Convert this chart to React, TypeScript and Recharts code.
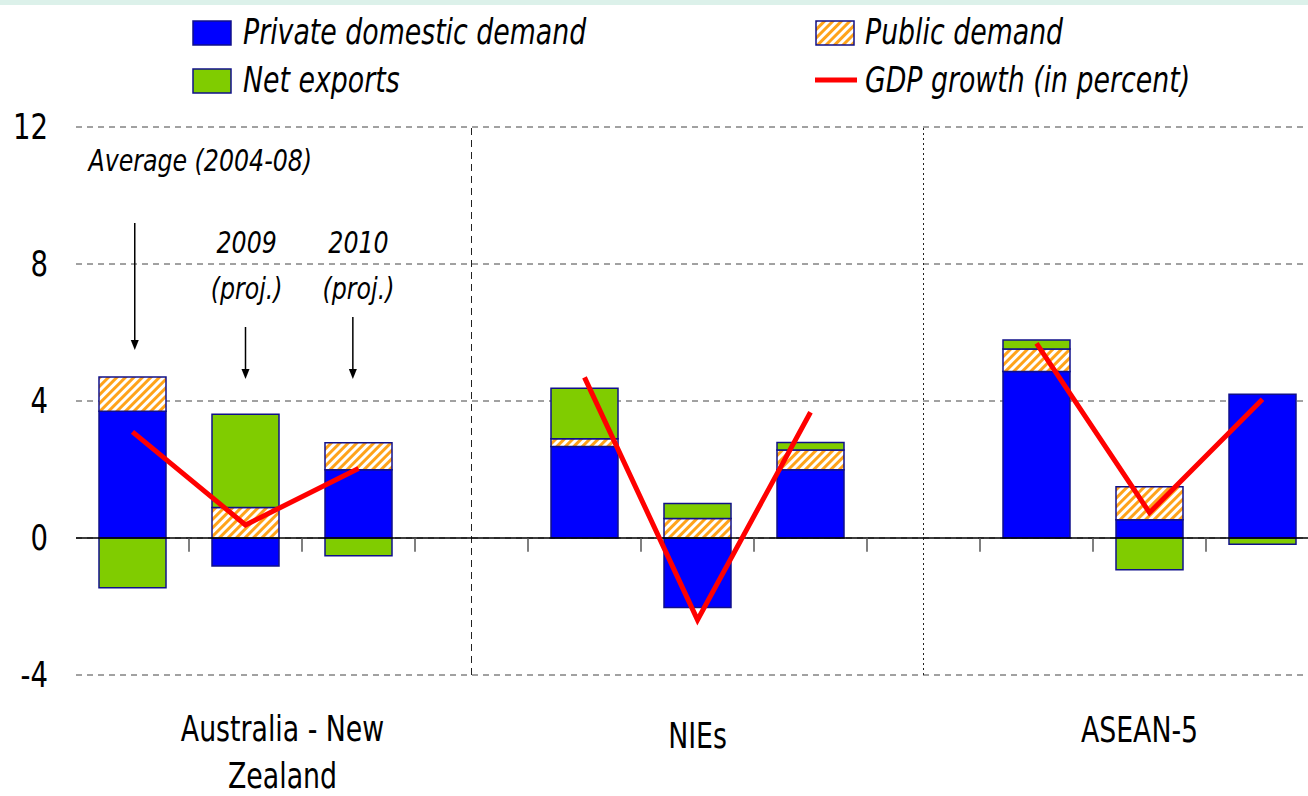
import {
  ComposedChart,
  Bar,
  Line,
  XAxis,
  YAxis,
  CartesianGrid,
  ReferenceLine,
  ReferenceDot,
  Legend,
} from "recharts";

const FONT = "'Liberation Sans Narrow', 'DejaVu Sans Condensed', 'Arial Narrow', sans-serif";
const SQUEEZE = 0.85;

// 11 slots: three bars per group and an empty slot between groups
const slots = [0.5, 1.5, 2.5, 3.5, 4.5, 5.5, 6.5, 7.5, 8.5, 9.5, 10.5];
const privateDemand = [3.7, -0.82, 1.99, null, 2.67, -2.03, 1.99, null, 4.86, 0.53, 4.2];
const publicDemand = [1.0, 0.89, 0.79, null, 0.23, 0.57, 0.58, null, 0.66, 0.97, 0];
const netExports = [-1.45, 2.72, -0.52, null, 1.47, 0.44, 0.22, null, 0.26, -0.93, -0.18];
const gdpGrowth = [3.1, 0.38, 2.03, null, 4.69, -2.39, 3.67, null, 5.68, 0.74, 4.05];

const groupCenters = [1.5, 5.5, 9.5];
const groupLabels = [["Australia - New", "Zealand"], ["NIEs"], ["ASEAN-5"]];
const dividers = [3.5, 7.5];
const slotEdges = [1, 2, 3, 4, 5, 6, 7, 8, 9, 10];
const yTicks = [-4, 0, 4, 8, 12];

// period annotations over the first group
const notes = [
  { x: 0.11, y: 11.04, text: "Average (2004-08)", anchor: "start" },
  { x: 1.51, y: 8.64, text: "2009", anchor: "middle" },
  { x: 1.51, y: 7.3, text: "(proj.)", anchor: "middle" },
  { x: 2.5, y: 8.64, text: "2010", anchor: "middle" },
  { x: 2.5, y: 7.3, text: "(proj.)", anchor: "middle" },
];
const arrows = [
  { x: 0.52, from: 9.2, to: 5.49 },
  { x: 1.5, from: 6.16, to: 4.64 },
  { x: 2.45, from: 6.45, to: 4.64 },
];

const data = slots.map((pos, i) => ({
  pos,
  priv: privateDemand[i],
  pub: publicDemand[i],
  net: netExports[i],
  gdp: gdpGrowth[i],
}));

const BLUE = "#0000ff";
const GREEN = "#80cc00";
const EDGE = "#10108a";

// narrow text: the reference uses a condensed face, so squeeze horizontally
const NarrowText = ({ x, y, anchor = "middle", size, italic, children }: any) => (
  <text
    transform={`translate(${x},${y}) scale(${SQUEEZE},1)`}
    textAnchor={anchor}
    dominantBaseline="central"
    fontFamily={FONT}
    fontStyle={italic ? "italic" : "normal"}
    fontSize={size}
    fill="#000"
  >
    {children}
  </text>
);

const GroupTick = (props: any) => {
  const { x, y, payload } = props;
  const idx = groupCenters.indexOf(payload.value);
  if (idx < 0) return null;
  const dx = [37, 0, -10][idx];
  const top = [46, 53, 47][idx];
  return (
    <g>
      {groupLabels[idx].map((line, j) => (
        <NarrowText key={j} x={x + dx} y={y + top + j * 47} size={35}>
          {line}
        </NarrowText>
      ))}
    </g>
  );
};

const ValueTick = (props: any) => {
  const { x, y, payload } = props;
  return (
    <NarrowText x={x} y={y} anchor="end" size={36}>
      {payload.value}
    </NarrowText>
  );
};

const Arrow = (p: any) => {
  const { x1, y1, x2, y2 } = p;
  const top = Math.min(y1, y2);
  const bot = Math.max(y1, y2);
  return (
    <g>
      <line x1={x1} y1={top} x2={x2} y2={bot - 8} stroke="#000" strokeWidth={1.5} />
      <polygon points={`${x2 - 4},${bot - 10} ${x2 + 4},${bot - 10} ${x2},${bot}`} fill="#000" />
    </g>
  );
};

const HatchSwatch = ({ id }: { id: string }) => (
  <svg width={40} height={26}>
    <defs>
      <pattern id={id} width="6" height="6" patternUnits="userSpaceOnUse" patternTransform="rotate(45)">
        <rect width="6" height="6" fill="#fff" />
        <rect width="3" height="6" fill="#ffa31a" />
      </pattern>
    </defs>
    <rect x={1} y={1} width={38} height={24} fill={`url(#${id})`} stroke={EDGE} strokeWidth={1.5} />
  </svg>
);

const renderLegend = () => {
  const text = {
    position: "absolute" as const,
    fontSize: 35,
    lineHeight: "35px",
    whiteSpace: "nowrap" as const,
    transform: `scaleX(${SQUEEZE})`,
    transformOrigin: "left center",
  };
  return (
    <div style={{ position: "relative", width: 1308, height: 110, fontFamily: FONT, fontStyle: "italic" }}>
      <svg width={40} height={26} style={{ position: "absolute", left: 192, top: 20 }}>
        <rect x={1} y={1} width={38} height={24} fill={BLUE} stroke={EDGE} strokeWidth={1.5} />
      </svg>
      <div style={{ ...text, left: 243, top: 15 }}>Private domestic demand</div>
      <svg width={40} height={26} style={{ position: "absolute", left: 192, top: 68 }}>
        <rect x={1} y={1} width={38} height={24} fill={GREEN} stroke={EDGE} strokeWidth={1.5} />
      </svg>
      <div style={{ ...text, left: 243, top: 63 }}>Net exports</div>
      <div style={{ position: "absolute", left: 815, top: 20 }}>
        <HatchSwatch id="hatchLegend" />
      </div>
      <div style={{ ...text, left: 865, top: 15 }}>Public demand</div>
      <svg width={44} height={10} style={{ position: "absolute", left: 814, top: 75 }}>
        <line x1={1} y1={5} x2={43} y2={5} stroke="#ff0000" strokeWidth={5} />
      </svg>
      <div style={{ ...text, left: 865, top: 63 }}>GDP growth (in percent)</div>
    </div>
  );
};

export default function App() {
  return (
    <div
      style={{
        position: "absolute",
        left: 0,
        top: 0,
        width: 1308,
        height: 796,
        overflow: "hidden",
        background: "#fff",
      }}
    >
      <div style={{ position: "absolute", left: 0, top: 0, width: 1308, height: 5, background: "#dcf1ea" }} />
      <ComposedChart
        width={1320}
        height={796}
        data={data}
        stackOffset="sign"
        margin={{ top: 127, right: 1, left: 0, bottom: 21 }}
      >
        <defs>
          <pattern id="hatch" width="6" height="6" patternUnits="userSpaceOnUse" patternTransform="rotate(45)">
            <rect width="6" height="6" fill="#fff" />
            <rect width="3" height="6" fill="#ffa31a" />
          </pattern>
        </defs>
        <CartesianGrid vertical={false} stroke="#444" strokeDasharray="6 5" />
        <XAxis
          dataKey="pos"
          type="number"
          domain={[0, 11]}
          ticks={groupCenters}
          axisLine={false}
          tickLine={false}
          height={100}
          tick={<GroupTick />}
          interval={0}
        />
        <YAxis
          domain={[-4, 12]}
          ticks={yTicks}
          width={76}
          axisLine={false}
          tickLine={false}
          tickMargin={22}
          tick={<ValueTick />}
        />
        <Legend
          layout="horizontal"
          verticalAlign="middle"
          align="center"
          content={renderLegend}
          wrapperStyle={{ top: 0, left: 0, width: 1308, height: 110 }}
        />
        {dividers.map((d) => (
          <ReferenceLine
            key={`div${d}`}
            x={d}
            stroke="#222"
            strokeWidth={1}
            strokeDasharray={d < 5 ? "7 5" : "2 3"}
          />
        ))}
        <Bar dataKey="priv" stackId="a" fill={BLUE} stroke={EDGE} strokeWidth={1.5} barSize={67} isAnimationActive={false} />
        <Bar dataKey="pub" stackId="a" fill="url(#hatch)" stroke={EDGE} strokeWidth={1.5} barSize={67} isAnimationActive={false} />
        <Bar dataKey="net" stackId="a" fill={GREEN} stroke={EDGE} strokeWidth={1.5} barSize={67} isAnimationActive={false} />
        <ReferenceLine y={0} stroke="#000" strokeWidth={1.5} />
        {slotEdges.map((e) => (
          <ReferenceLine
            key={`edge${e}`}
            segment={[{ x: e, y: 0 }, { x: e, y: -0.4 }]}
            stroke="#555"
            strokeWidth={1.5}
          />
        ))}
        <Line
          dataKey="gdp"
          stroke="#ff0000"
          strokeWidth={5}
          dot={false}
          activeDot={false}
          connectNulls={false}
          isAnimationActive={false}
        />
        {arrows.map((a, i) => (
          <ReferenceLine
            key={`arr${i}`}
            segment={[{ x: a.x, y: a.from }, { x: a.x, y: a.to }]}
            shape={<Arrow />}
          />
        ))}
        {notes.map((n, i) => (
          <ReferenceDot
            key={`note${i}`}
            x={n.x}
            y={n.y}
            r={1}
            shape={(p: any) => (
              <NarrowText x={p.cx} y={p.cy} anchor={n.anchor} size={31} italic>
                {n.text}
              </NarrowText>
            )}
          />
        ))}
      </ComposedChart>
    </div>
  );
}
